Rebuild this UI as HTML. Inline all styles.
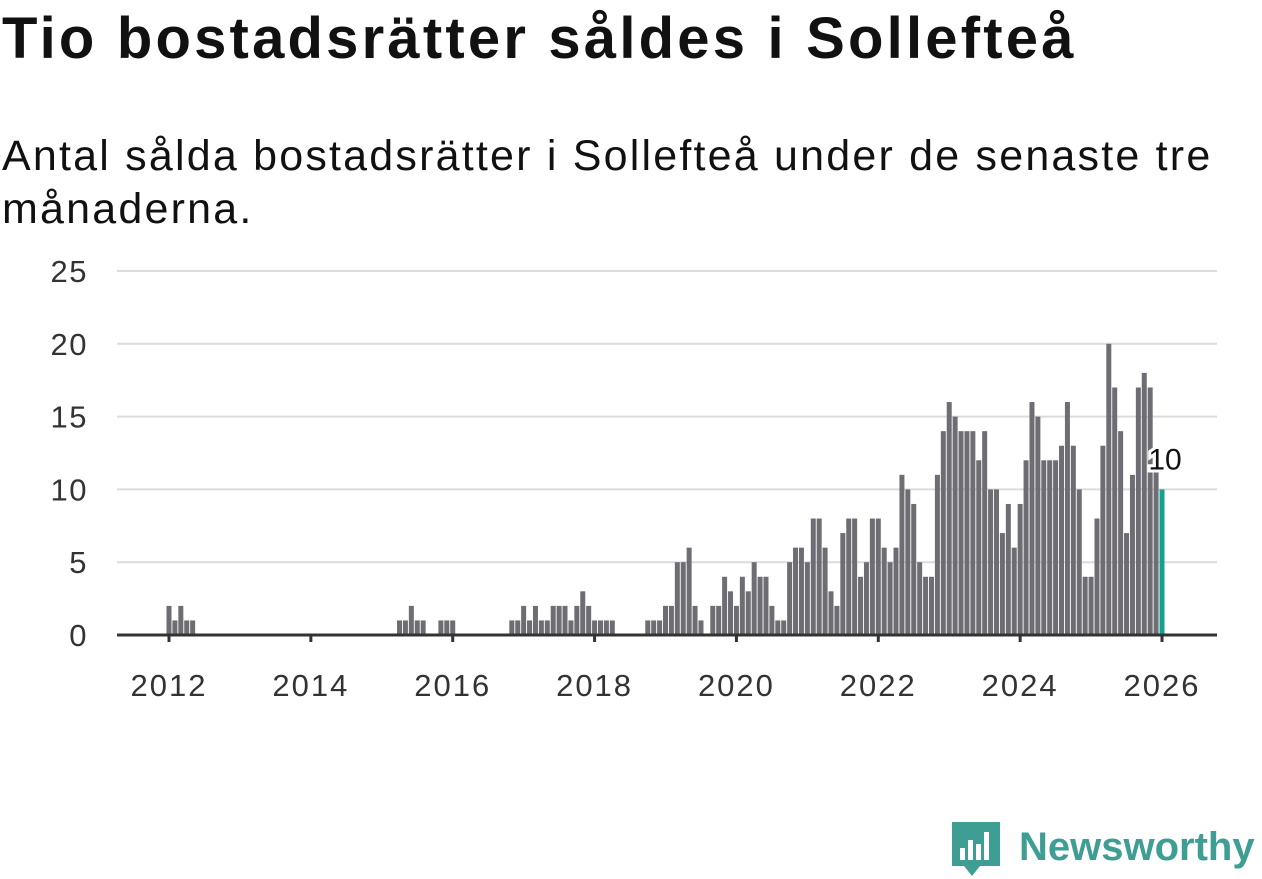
<!DOCTYPE html>
<html><head><meta charset="utf-8"><style>
body{margin:0;background:#fff;width:1262px;height:879px;overflow:hidden;font-family:"Liberation Sans","DejaVu Sans",sans-serif;}
h1{position:absolute;left:2px;top:4px;margin:0;font-size:58px;line-height:70px;font-weight:bold;color:#111;letter-spacing:3.2px;white-space:nowrap;}
.sub{position:absolute;left:2px;top:130px;margin:0;font-size:43px;line-height:53px;color:#111;width:1250px;letter-spacing:2.2px;}
svg{position:absolute;left:0;top:0;}
</style></head><body>
<h1>Tio bostadsrätter såldes i Sollefteå</h1>
<p class="sub">Antal sålda bostadsrätter i Sollefteå under de senaste tre månaderna.</p>
<svg id="chart" width="1262" height="879"></svg>
<script>
const yTicks=[0,5,10,15,20,25];
const xTickYears=[2012,2014,2016,2018,2020,2022,2024,2026];
const run1Start=0; const run1=[2,1,2,1,1];
const run2Start=39; const run2=[1,1,2,1,1,0,0,1,1,1];
const run3Start=58; const run3=[1,1,2,1,2,1,1,2,2,2,1,2,3,2,1,1,1,1];
const run4Start=81; const run4=[1,1,1,2,2,5,5,6,2,1,0,2,2,4,3,2,4,3,5,4,4,2,1,1,5,6,6,5,8,8,6,3,2,7,8,8,4,5,8,8,6,5,6,11,10,9,5,4,4,11,14,16,15,14,14,14,12,14,10,10,7,9,6,9,12,16,15,12,12,12,13,16,13,10,4,4,8,13,20,17,14,7,11,17,18,17,12,10];
const NS='http://www.w3.org/2000/svg';
const svg=document.getElementById('chart');
const x0=169,pxMonth=(1162-169)/168,y0=635,pxUnit=(635-271)/25;
const xs=m=>x0+m*pxMonth, ys=v=>y0-v*pxUnit;
function mk(t,a){const e=document.createElementNS(NS,t);for(const k in a)e.setAttribute(k,a[k]);svg.appendChild(e);return e;}
yTicks.forEach(v=>{
 const g=mk('line',{x1:117,x2:1217,y1:ys(v),y2:ys(v),stroke:'#dcdcdc','stroke-width':2});
 
 
 const t=mk('text',{x:88,y:ys(v)+11,'text-anchor':'end','font-size':31,'letter-spacing':1.5,fill:'#333'});
 t.textContent=v;
 
 
});
const vals=new Array(169).fill(0);
[[run1Start,run1],[run2Start,run2],[run3Start,run3],[run4Start,run4]].forEach(([s,a])=>a.forEach((v,i)=>vals[s+i]=v));
vals.forEach((v,m)=>{
 if(!v)return;
 const last=m===vals.length-1;
 const r=mk('rect',{x:xs(m)-2.5,y:ys(v),width:5,height:v*pxUnit,fill:last?'#16a090':'#6e6d73'});
 
 
});
const lastV=vals[vals.length-1];
const lb=mk('text',{x:xs(168)+3,y:ys(lastV)-20,'text-anchor':'middle','font-size':30,fill:'#111',stroke:'#fff','stroke-width':6,'paint-order':'stroke'});
lb.textContent=lastV;


const ax=mk('line',{x1:117,x2:1217,y1:y0,y2:y0,stroke:'#333','stroke-width':3});


xTickYears.forEach(yr=>{
 const x=xs((yr-2012)*12);
 const tk=mk('line',{x1:x,x2:x,y1:y0,y2:y0+7,stroke:'#333','stroke-width':3});
 
 
 const t=mk('text',{x:x,y:696,'text-anchor':'middle','font-size':31,'letter-spacing':2,fill:'#333'});
 t.textContent=yr;
 
 
});
</script>
<svg width="1262" height="879" style="position:absolute;left:0;top:0">
 <path d="M952 822 h48 v44 h-20 l-8 10 l-8 -10 h-12 z" fill="#3f9e94"/>
 <rect x="960" y="848" width="5" height="12" fill="#fff"/><rect x="968" y="840" width="5" height="20" fill="#fff"/><rect x="976" y="844" width="5" height="16" fill="#fff"/><rect x="984" y="832" width="5" height="28" fill="#fff"/>
 <text x="1019" y="860" font-size="40" font-weight="bold" fill="#3f9e94" font-family="Liberation Sans, sans-serif">Newsworthy</text>
</svg>
</body></html>
